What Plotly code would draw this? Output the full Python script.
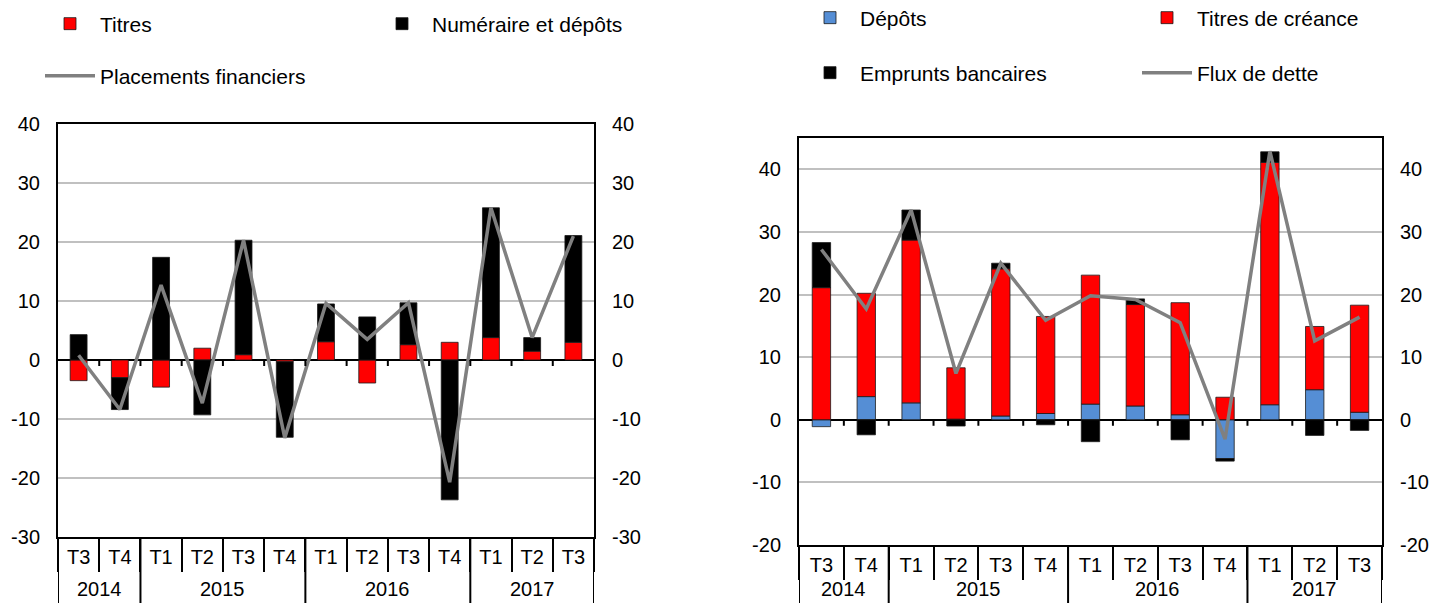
import plotly.graph_objects as go

# ---------------- data ----------------
years = ['2014', '2014', '2015', '2015', '2015', '2015', '2016', '2016', '2016', '2016', '2017', '2017', '2017']
quarters = ['T3', 'T4', 'T1', 'T2', 'T3', 'T4', 'T1', 'T2', 'T3', 'T4', 'T1', 'T2', 'T3']

# left chart
titres = [-3.5, -3.0, -4.6, 2.0, 0.9, -0.3, 3.1, -3.9, 2.6, 3.0, 3.8, 1.5, 3.0]
numeraire = [4.3, -5.4, 17.4, -9.3, 19.4, -12.8, 6.4, 7.3, 7.1, -23.7, 22.0, 2.3, 18.1]
placements = [0.8, -8.4, 12.7, -7.3, 20.3, -13.2, 9.6, 3.5, 9.7, -20.7, 25.8, 3.8, 21.0]

# right chart
depots = [-1.1, 3.7, 2.7, 0.1, 0.6, 1.0, 2.5, 2.2, 0.8, -6.2, 2.4, 4.8, 1.2]
titres_creance = [21.1, 16.5, 26.0, 8.2, 23.5, 15.5, 20.6, 16.2, 17.9, 3.6, 38.7, 10.1, 17.1]
emprunts = [7.2, -2.4, 4.8, -1.0, 0.9, -0.8, -3.5, 0.9, -3.2, -0.4, 1.7, -2.5, -1.7]
flux = [27.2, 17.7, 33.5, 7.4, 25.0, 15.9, 19.8, 19.2, 15.5, -3.1, 42.9, 12.6, 16.4]

left_ticks = [-30, -20, -10, 0, 10, 20, 30, 40]
left_ticktext = ['-30', '-20', '-10', '0', '10', '20', '30', '40']
right_ticks = [-20, -10, 0, 10, 20, 30, 40]
right_ticktext = ['-20', '-10', '0', '10', '20', '30', '40']

# ---------------- styling ----------------
OFF = 8                      # page body margin
FW, FH = 1448 - OFF, 603 - OFF
FONT = 'Liberation Sans, Arial, sans-serif'
RED = '#FF0000'
BLACK = '#000000'
BLUE = '#558ED5'
GREY = '#808080'
GRID = '#C0C0C0'

L_RANGE = [-30, 40]
R_RANGE = [-20, 45]


def px(xp):
    return (xp - OFF) / FW


def py(yp):
    return 1 - (yp - OFF) / FH


# plot-area domains (paper coords, margins zero)
L_X = [px(58), px(594)]
L_Y = [py(537), py(124)]
R_X = [px(799), px(1382)]
R_Y = [py(545), py(138)]

keys = [y + '-' + q for y, q in zip(years, quarters)]
n = len(keys)

bar_line = dict(color='#1a1a1a', width=0.8)

fig = go.Figure()

# left chart
fig.add_trace(go.Bar(x=keys, y=titres, name='Titres', marker=dict(color=RED, line=bar_line),
                     xaxis='x', yaxis='y', legend='legend'))
fig.add_trace(go.Bar(x=keys, y=numeraire, name='Numéraire et dépôts', marker=dict(color=BLACK, line=bar_line),
                     xaxis='x', yaxis='y', legend='legend2'))
fig.add_trace(go.Scatter(x=keys, y=placements, name='Placements financiers', mode='lines',
                         line=dict(color=GREY, width=3.5), xaxis='x', yaxis='y3', legend='legend3'))

# right chart
fig.add_trace(go.Bar(x=keys, y=depots, name='Dépôts', marker=dict(color=BLUE, line=bar_line),
                     xaxis='x2', yaxis='y2', legend='legend4'))
fig.add_trace(go.Bar(x=keys, y=titres_creance, name='Titres de créance', marker=dict(color=RED, line=bar_line),
                     xaxis='x2', yaxis='y2', legend='legend5'))
fig.add_trace(go.Bar(x=keys, y=emprunts, name='Emprunts bancaires', marker=dict(color=BLACK, line=bar_line),
                     xaxis='x2', yaxis='y2', legend='legend6'))
fig.add_trace(go.Scatter(x=keys, y=flux, name='Flux de dette', mode='lines',
                         line=dict(color=GREY, width=3.5), xaxis='x2', yaxis='y4', legend='legend7'))

tick_font = dict(family=FONT, size=20, color='#000000')


def cat_axis(dom, anchor):
    return dict(domain=dom, anchor=anchor, type='category', categoryorder='array', categoryarray=keys,
                tickvals=keys, ticktext=quarters, range=[-0.5, n - 0.5],
                showline=True, mirror=True, linecolor=BLACK, linewidth=2,
                ticks='outside', tickson='boundaries', ticklen=33, tickwidth=2, tickcolor=BLACK,
                tickfont=tick_font, showgrid=False, zeroline=False, ticklabelstandoff=1)


def val_axis(dom, anchor, rng, tv, tt, side='left', overlay=None, grid=True):
    d = dict(domain=dom, anchor=anchor, range=rng, tickvals=tv, ticktext=tt, side=side,
             showgrid=grid, gridcolor=GRID, gridwidth=2, zeroline=grid, zerolinecolor=BLACK,
             zerolinewidth=2, showline=True, linecolor=BLACK, linewidth=2, ticks='',
             tickfont=tick_font, ticklabelstandoff=12)
    if overlay:
        d['overlaying'] = overlay
        d.pop('domain')
    return d


# year groups: centres and boundaries derived from the years array
year_labels = []
for y in years:
    if y not in year_labels:
        year_labels.append(y)
year_centres = []
for y in year_labels:
    idx = [i for i, v in enumerate(years) if v == y]
    year_centres.append((idx[0] + idx[-1]) / 2)
year_bounds = [-0.5] + [i + 0.5 for i in range(n - 1) if years[i] != years[i + 1]] + [n - 0.5]
inner_bounds = [i + 0.5 for i in range(n - 1)]

shapes = []
annotations = []
for xr, yr, ydom, rng in (('x', 'y', L_Y, L_RANGE), ('x2', 'y2', R_Y, R_RANGE)):
    # year dividers below the plot
    for b in year_bounds:
        shapes.append(dict(type='line', xref=xr, yref='paper', x0=b, x1=b, y0=ydom[0], y1=-0.02,
                           line=dict(color=BLACK, width=2)))
    # small tick marks on the zero line
    px_per_unit = (ydom[1] - ydom[0]) * FH / (rng[1] - rng[0])
    tl = 6 / px_per_unit
    for b in inner_bounds:
        shapes.append(dict(type='line', xref=xr, yref=yr, x0=b, x1=b, y0=0, y1=-tl,
                           line=dict(color=BLACK, width=2)))
    for c, lab in zip(year_centres, year_labels):
        annotations.append(dict(xref=xr, yref='paper', x=c, y=py(589), text=lab, showarrow=False,
                                xanchor='center', yanchor='middle', font=tick_font))


def leg(text_x, cy):
    return dict(x=px(text_x - 60), y=py(cy), xanchor='left', yanchor='middle',
                orientation='h', font=dict(family=FONT, size=21, color='#000000'),
                bgcolor='rgba(0,0,0,0)', itemwidth=50)


fig.update_layout(
    width=FW, height=FH,
    margin=dict(l=0, r=0, t=0, b=0, autoexpand=False),
    paper_bgcolor='white', plot_bgcolor='white',
    barmode='relative', bargap=0.59,
    font=dict(family=FONT, size=20, color='#000000'),
    xaxis=cat_axis(L_X, 'y'),
    yaxis=val_axis(L_Y, 'x', L_RANGE, left_ticks, left_ticktext),
    xaxis2=cat_axis(R_X, 'y2'),
    yaxis2=val_axis(R_Y, 'x2', R_RANGE, right_ticks, right_ticktext),
    yaxis3=val_axis(L_Y, 'x', L_RANGE, left_ticks, left_ticktext, side='right', overlay='y', grid=False),
    yaxis4=val_axis(R_Y, 'x2', R_RANGE, right_ticks, right_ticktext, side='right', overlay='y2', grid=False),
    legend=leg(100, 24),
    legend2=leg(432, 24),
    legend3=leg(100, 76),
    legend4=leg(860, 18),
    legend5=leg(1197, 18),
    legend6=leg(860, 73),
    legend7=leg(1197, 73),
    shapes=shapes,
    annotations=annotations,
    showlegend=True,
)

fig.write_html('out.html')
